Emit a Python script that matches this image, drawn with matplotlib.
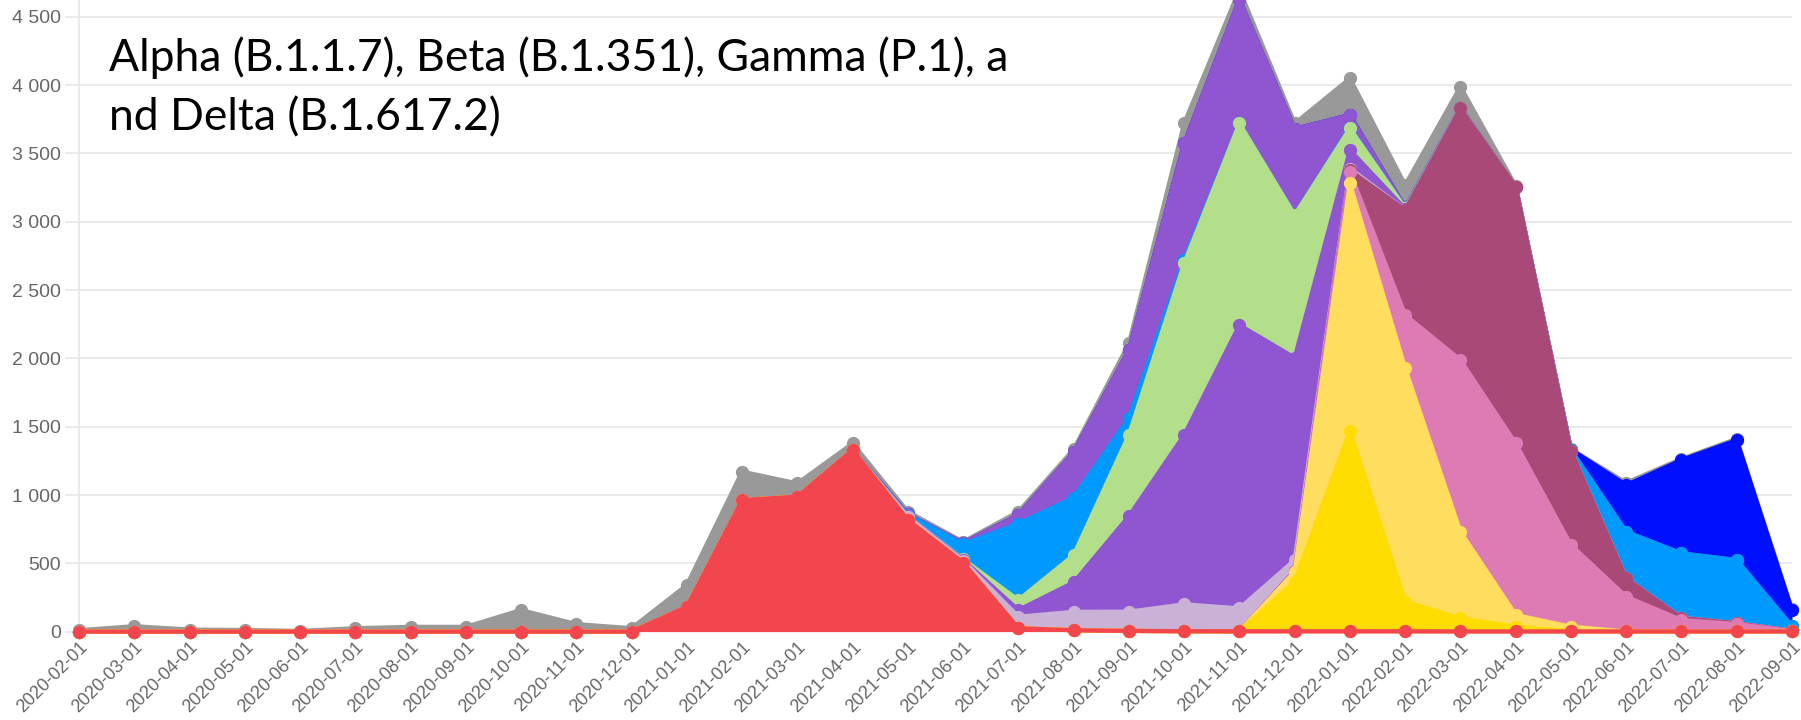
import numpy as np
import matplotlib.pyplot as plt

months = ["2020-02-01", "2020-03-01", "2020-04-01", "2020-05-01", "2020-06-01", "2020-07-01",
          "2020-08-01", "2020-09-01", "2020-10-01", "2020-11-01", "2020-12-01", "2021-01-01",
          "2021-02-01", "2021-03-01", "2021-04-01", "2021-05-01", "2021-06-01", "2021-07-01",
          "2021-08-01", "2021-09-01", "2021-10-01", "2021-11-01", "2021-12-01", "2022-01-01",
          "2022-02-01", "2022-03-01", "2022-04-01", "2022-05-01", "2022-06-01", "2022-07-01",
          "2022-08-01", "2022-09-01"]

# monthly counts per variant, stacked bottom -> top
red       = [0, 0, 0, 0, 0, 0, 0, 0, 0, 0, 0, 182, 963, 988, 1329, 817, 505, 24, 10, 5, 3, 2, 2, 2, 2, 1, 1, 1, 1, 1, 1, 1]
orange    = [0] * 32
gold      = [0] * 22 + [363, 1470, 217, 96, 35, 2, 0, 0, 0, 0]
lyellow   = [0] * 22 + [74, 1809, 1708, 634, 86, 33, 0, 0, 0, 0]
pink      = [0] * 22 + [4, 85, 391, 1257, 1256, 598, 255, 84, 54, 4]
magenta   = [0] * 22 + [4, 10, 768, 1842, 1879, 691, 134, 15, 6, 1]
lavender  = [0] * 15 + [23, 15, 85, 135, 141, 197, 168, 77, 14, 2, 1, 0, 0, 0, 0, 0, 0]
purple_lo = [0] * 15 + [5, 5, 49, 215, 699, 1239, 2074, 1481, 135, 6, 1, 0, 0, 0, 0, 0, 0]
green     = [0] * 15 + [0, 5, 73, 200, 595, 1257, 1477, 1045, 159, 6, 1, 0, 0, 0, 0, 0, 0]
lblue     = [0] * 15 + [10, 110, 559, 420, 122, 24, 0, 0, 6, 2, 1, 0, 5, 341, 473, 463, 34]
purple_hi = [0] * 15 + [3, 8, 64, 332, 499, 854, 909, 630, 92, 3, 1, 0, 0, 0, 0, 0, 0]
dblue     = [0] * 27 + [3, 342, 683, 878, 118]
gray      = [10, 40, 15, 12, 5, 25, 35, 35, 158, 55, 25, 159, 208, 97, 49, 20, 10, 24, 23, 49,
             147, 70, 40, 268, 165, 155, 5, 3, 17, 9, 10, 7]

series = [red, orange, gold, lyellow, pink, magenta, lavender, purple_lo, green, lblue,
          purple_hi, dblue, gray]
colors = ["#f2454d", "#f7a23b", "#ffdc00", "#ffdd5e", "#de7bb4", "#a94977", "#c9b2d6",
          "#9055d0", "#b3df8a", "#009aff", "#9055d0", "#0010ff", "#999999"]

yticks = list(range(0, 4501, 500))
title_lines = ["Alpha (B.1.1.7), Beta (B.1.351), Gamma (P.1), a", "nd Delta (B.1.617.2)"]

x = np.arange(len(months))
tops = np.cumsum(np.array(series, dtype=float), axis=0)
bottoms = np.vstack([np.zeros(len(months)), tops[:-1]])

fig = plt.figure(figsize=(18.01, 7.2), dpi=100)
ax = fig.add_axes([79 / 1801, 88.4 / 720, (1792 - 79) / 1801, 683 / 720])

# chart.js draws the last dataset first, so the first one ends up on top
n = len(series)
for i in range(n - 1, -1, -1):
    z = 2 + (n - i) * 2
    ax.fill_between(x, bottoms[i], tops[i], color=colors[i], lw=0, zorder=z)
    ax.plot(x, tops[i], color=colors[i], lw=3, marker="o", ms=8.5,
            solid_joinstyle="round", zorder=z + 1, clip_on=False)

ax.set_xlim(0, len(months) - 1)
ax.set_ylim(0, 5000)
ax.set_yticks(yticks)
ax.set_yticklabels([f"{v:,}".replace(",", " ") for v in yticks])
ax.set_xticks(x)
ax.set_xticklabels(months, rotation=45, ha="right", va="top", rotation_mode="anchor")

ax.grid(axis="y", color="#e8e8e8", lw=1.3, zorder=0)
ax.tick_params(axis="y", length=10, color="#e8e8e8", width=1.3, pad=3,
               labelsize=14, labelcolor="#666666")
ax.tick_params(axis="x", length=0, pad=5, labelsize=13, labelcolor="#666666")
for lab in ax.get_xticklabels() + ax.get_yticklabels():
    lab.set_fontfamily("Liberation Sans")
for s in ["top", "right", "bottom"]:
    ax.spines[s].set_visible(False)
ax.spines["left"].set_color("#e8e8e8")
ax.spines["left"].set_linewidth(1.3)
ax.set_axisbelow(True)

fig.text(109 / 1801, 1 - 71 / 720, title_lines[0], fontsize=32, family="Lato",
         color="black", ha="left", va="baseline")
fig.text(109 / 1801, 1 - 130 / 720, title_lines[1], fontsize=32, family="Lato",
         color="black", ha="left", va="baseline")

fig.savefig("out.png", dpi=100, facecolor="white")
